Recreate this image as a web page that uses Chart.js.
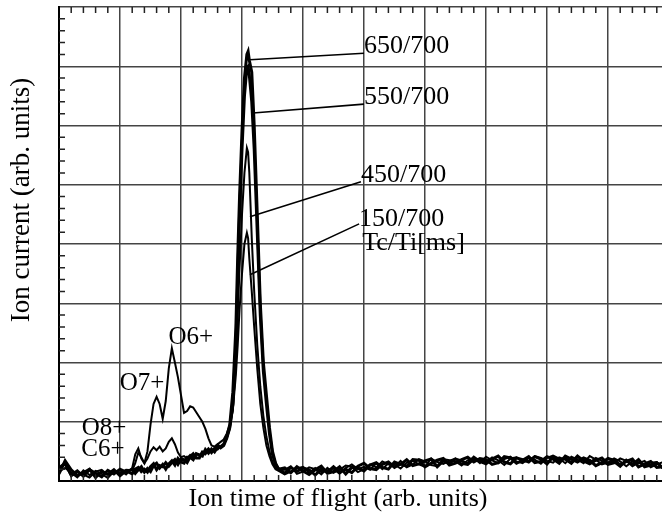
<!DOCTYPE html>
<html>
<head>
<meta charset="utf-8">
<script src="https://cdn.jsdelivr.net/npm/chart.js@4/dist/chart.umd.min.js"></script>
<style>
    html, body { margin: 0; padding: 0; background: #fff; overflow: hidden; }
    #wrap { width: 690px; height: 512px; position: relative; }
</style>
</head>
<body>
<div id="wrap"><canvas id="tofChart"></canvas></div>
<script>
// Ion time of flight (arb. units)
const tof = [
    0, 0.1, 0.2, 0.3, 0.4, 0.5, 0.6, 0.7, 0.8, 0.9, 1.0, 1.1,
    1.2, 1.25, 1.3, 1.35, 1.4, 1.45, 1.5, 1.55, 1.6, 1.65,
    1.7, 1.75, 1.8, 1.85, 1.9, 1.95, 2.0, 2.05, 2.1, 2.15,
    2.2, 2.25, 2.3, 2.35, 2.4, 2.45, 2.5, 2.55, 2.6, 2.65,
    2.7, 2.75, 2.8, 2.85, 2.9, 2.93, 2.96, 3.0, 3.04, 3.08,
    3.1, 3.12, 3.16, 3.2, 3.25, 3.3, 3.35, 3.4, 3.45, 3.5,
    3.55, 3.6,
    3.7, 3.8, 3.9, 4.0, 4.1, 4.2, 4.3, 4.4,
    4.5, 4.6, 4.7, 4.8, 4.9, 5.0, 5.1, 5.2,
    5.3, 5.4, 5.5, 5.6, 5.7, 5.8, 5.9, 6.0,
    6.1, 6.2, 6.3, 6.4, 6.5, 6.6, 6.7, 6.8,
    6.9, 7.0, 7.1, 7.2, 7.3, 7.4, 7.5, 7.6,
    7.7, 7.8, 7.9, 8.0, 8.1, 8.2, 8.3, 8.4,
    8.5, 8.6, 8.7, 8.8, 8.9, 9.0, 9.1, 9.2,
    9.3, 9.4, 9.5, 9.6, 9.7, 9.8, 9.9, 10.0
];

// Ion current (arb. units), Tc/Ti = 650/700
const cur650 = [
    0.22, 0.30, 0.10, 0.17, 0.08, 0.19, 0.13, 0.07, 0.18, 0.12, 0.20, 0.15,
    0.20, 0.13, 0.19, 0.24, 0.15, 0.21, 0.16, 0.26, 0.30, 0.22,
    0.28, 0.20, 0.29, 0.34, 0.27, 0.38, 0.32, 0.30, 0.40, 0.40,
    0.36, 0.46, 0.44, 0.42, 0.53, 0.47, 0.54, 0.49, 0.57, 0.58,
    0.62, 0.75, 0.95, 1.5, 2.6, 3.8, 4.8, 5.9, 6.8, 7.2,
    7.25, 7.1, 6.9, 6.0, 4.5, 3.0, 2.0, 1.45, 0.9, 0.5,
    0.3, 0.2,
    0.22, 0.14, 0.24, 0.17, 0.11, 0.19, 0.25, 0.13,
    0.16, 0.24, 0.12, 0.23, 0.22, 0.17, 0.27, 0.31,
    0.23, 0.20, 0.32, 0.28, 0.36, 0.26, 0.29, 0.34,
    0.37, 0.24, 0.34, 0.30, 0.37, 0.34, 0.29, 0.40,
    0.33, 0.29, 0.37, 0.42, 0.32, 0.29, 0.39, 0.36,
    0.32, 0.41, 0.37, 0.29, 0.41, 0.35, 0.38, 0.31,
    0.42, 0.34, 0.29, 0.35, 0.39, 0.29, 0.33, 0.25,
    0.35, 0.28, 0.36, 0.24, 0.27, 0.31, 0.22, 0.26
];

// Tc/Ti = 550/700
const cur550 = [
    0.12, 0.34, 0.19, 0.09, 0.14, 0.20, 0.06, 0.16, 0.11, 0.19, 0.09, 0.17,
    0.12, 0.20, 0.23, 0.16, 0.20, 0.15, 0.24, 0.29, 0.19, 0.26,
    0.24, 0.31, 0.25, 0.31, 0.36, 0.28, 0.37, 0.36, 0.31, 0.41,
    0.46, 0.39, 0.39, 0.49, 0.48, 0.54, 0.48, 0.55, 0.61, 0.56,
    0.60, 0.72, 0.90, 1.3, 2.3, 3.4, 4.5, 5.6, 6.5, 6.98,
    7.0, 6.85, 6.4, 5.6, 4.2, 2.8, 1.85, 1.3, 0.8, 0.45,
    0.28, 0.20,
    0.13, 0.23, 0.16, 0.22, 0.19, 0.10, 0.20, 0.15,
    0.24, 0.15, 0.20, 0.14, 0.25, 0.30, 0.21, 0.19,
    0.28, 0.32, 0.23, 0.29, 0.25, 0.36, 0.35, 0.24,
    0.30, 0.35, 0.38, 0.27, 0.30, 0.36, 0.40, 0.32,
    0.38, 0.36, 0.28, 0.31, 0.41, 0.39, 0.30, 0.35,
    0.41, 0.31, 0.33, 0.41, 0.37, 0.30, 0.42, 0.37,
    0.32, 0.39, 0.35, 0.26, 0.31, 0.38, 0.35, 0.27,
    0.33, 0.37, 0.24, 0.29, 0.33, 0.23, 0.24, 0.28
];

// Tc/Ti = 450/700
const cur450 = [
    0.16, 0.22, 0.14, 0.06, 0.18, 0.10, 0.17, 0.12, 0.05, 0.16, 0.13, 0.19,
    0.18, 0.30, 0.48, 0.40, 0.30, 0.38, 0.50, 0.57, 0.52, 0.58,
    0.50, 0.55, 0.66, 0.72, 0.62, 0.48, 0.40, 0.42, 0.38, 0.44,
    0.40, 0.46, 0.43, 0.48, 0.45, 0.52, 0.49, 0.55, 0.53, 0.58,
    0.62, 0.72, 0.88, 1.2, 2.0, 2.8, 3.6, 4.5, 5.2, 5.62,
    5.55, 5.2, 4.1, 3.2, 2.3, 1.6, 1.1, 0.75, 0.5, 0.32,
    0.22, 0.18,
    0.19, 0.25, 0.12, 0.16, 0.23, 0.20, 0.11, 0.22,
    0.14, 0.19, 0.26, 0.24, 0.15, 0.20, 0.28, 0.23,
    0.33, 0.28, 0.24, 0.34, 0.23, 0.28, 0.37, 0.33,
    0.27, 0.25, 0.37, 0.35, 0.33, 0.26, 0.35, 0.39,
    0.30, 0.41, 0.35, 0.30, 0.37, 0.41, 0.33, 0.30,
    0.39, 0.36, 0.29, 0.39, 0.43, 0.38, 0.30, 0.41,
    0.36, 0.30, 0.42, 0.36, 0.28, 0.31, 0.38, 0.33,
    0.25, 0.33, 0.30, 0.34, 0.23, 0.28, 0.32, 0.22
];

// Tc/Ti = 150/700 (shows the O8+, O7+, O6+ peaks)
const cur150 = [
    0.20, 0.28, 0.08, 0.15, 0.11, 0.06, 0.16, 0.19, 0.10, 0.14, 0.18, 0.11,
    0.22, 0.45, 0.55, 0.38, 0.30, 0.50, 0.95, 1.30, 1.42, 1.30,
    1.05, 1.35, 1.90, 2.24, 2.00, 1.75, 1.45, 1.15, 1.18, 1.26,
    1.24, 1.16, 1.08, 1.00, 0.88, 0.72, 0.60, 0.58, 0.62, 0.66,
    0.70, 0.80, 0.95, 1.2, 1.8, 2.3, 2.9, 3.5, 4.0, 4.19,
    4.1, 3.75, 3.2, 2.6, 1.9, 1.3, 0.9, 0.6, 0.42, 0.28,
    0.20, 0.17,
    0.11, 0.16, 0.21, 0.24, 0.14, 0.22, 0.15, 0.18,
    0.21, 0.12, 0.22, 0.28, 0.20, 0.24, 0.19, 0.30,
    0.20, 0.30, 0.28, 0.21, 0.31, 0.34, 0.28, 0.24,
    0.38, 0.32, 0.29, 0.34, 0.38, 0.29, 0.27, 0.36,
    0.35, 0.32, 0.40, 0.35, 0.27, 0.38, 0.40, 0.32,
    0.34, 0.42, 0.39, 0.34, 0.31, 0.40, 0.36, 0.29,
    0.40, 0.36, 0.31, 0.39, 0.34, 0.27, 0.30, 0.38,
    0.34, 0.25, 0.31, 0.27, 0.31, 0.32, 0.21, 0.25
];

// Curve labels and their leader lines, in data units
const curveLabels = ['650/700', '550/700', '450/700', '150/700', 'Tc/Ti[ms]'];
const labelX = [5.0, 5.0, 4.95, 4.92, 4.97];
const labelY = [7.34, 6.48, 5.16, 4.42, 4.02];
const leaderFrom = [[3.13, 7.11], [3.18, 6.21], [3.13, 4.46], [3.13, 3.48]];
const leaderTo = [[5.0, 7.22], [5.0, 6.36], [4.95, 5.05], [4.92, 4.34]];

// Ion species labels (centre positions, data units)
const ionLabels = ['O6+', 'O7+', 'O8+', 'C6+'];
const ionX = [2.16, 1.36, 0.74, 0.72];
const ionY = [2.43, 1.64, 0.88, 0.54];

const serif = '"Liberation Serif", "DejaVu Serif", serif';

function toPoints(values) {
    return tof.map((x, i) => ({ x: x, y: values[i] }));
}

// Minor ticks, annotations and axis titles
const decorPlugin = {
    id: 'decor',
    afterDraw(chart) {
        const ctx = chart.ctx;
        const xs = chart.scales.x;
        const ys = chart.scales.y;
        const area = chart.chartArea;

        ctx.save();
        ctx.strokeStyle = '#222';
        ctx.lineWidth = 1.5;
        ctx.beginPath();
        for (let i = 1; i < 50; i++) {
            if (i % 5 === 0) continue;
            const px = xs.getPixelForValue(i / 5);
            ctx.moveTo(px, area.top);
            ctx.lineTo(px, area.top + 6);
            ctx.moveTo(px, area.bottom);
            ctx.lineTo(px, area.bottom - 6);
        }
        for (let i = 1; i < 40; i++) {
            if (i % 5 === 0) continue;
            const py = ys.getPixelForValue(i / 5);
            ctx.moveTo(area.left, py);
            ctx.lineTo(area.left + 6, py);
        }
        ctx.stroke();

        // leader lines
        ctx.strokeStyle = '#000';
        ctx.lineWidth = 1.6;
        ctx.beginPath();
        leaderFrom.forEach((p, i) => {
            ctx.moveTo(xs.getPixelForValue(p[0]), ys.getPixelForValue(p[1]));
            ctx.lineTo(xs.getPixelForValue(leaderTo[i][0]), ys.getPixelForValue(leaderTo[i][1]));
        });
        ctx.stroke();

        ctx.fillStyle = '#000';
        ctx.textBaseline = 'middle';
        ctx.font = '26px ' + serif;
        ctx.textAlign = 'left';
        curveLabels.forEach((t, i) => {
            ctx.fillText(t, xs.getPixelForValue(labelX[i]), ys.getPixelForValue(labelY[i]));
        });

        ctx.font = '25px ' + serif;
        ctx.textAlign = 'center';
        ionLabels.forEach((t, i) => {
            ctx.fillText(t, xs.getPixelForValue(ionX[i]), ys.getPixelForValue(ionY[i]));
        });

        // axis titles
        ctx.font = '26px ' + serif;
        ctx.fillText('Ion time of flight (arb. units)', area.left + 279, area.bottom + 18);
        ctx.translate(area.left - 37, area.top + 193);
        ctx.rotate(-Math.PI / 2);
        ctx.font = '27px ' + serif;
        ctx.fillText('Ion current (arb. units)', 0, 0);
        ctx.restore();
    }
};

function makeDataset(label, values, width) {
    return {
        label: label,
        data: toPoints(values),
        borderColor: '#000',
        borderWidth: width,
        pointRadius: 0,
        tension: 0,
        fill: false
    };
}

new Chart(document.getElementById('tofChart'), {
    type: 'line',
    data: {
        datasets: [
            makeDataset('650/700', cur650, 3),
            makeDataset('550/700', cur550, 3),
            makeDataset('450/700', cur450, 2),
            makeDataset('150/700', cur150, 2)
        ]
    },
    options: {
        responsive: true,
        maintainAspectRatio: false,
        animation: false,
        layout: { padding: { left: 59, top: 7, right: 21, bottom: 31 } },
        plugins: {
            legend: { display: false },
            tooltip: { enabled: false }
        },
        scales: {
            x: {
                type: 'linear',
                min: 0,
                max: 10,
                ticks: { display: false, stepSize: 1 },
                grid: { color: '#444', lineWidth: 1.5, drawTicks: false },
                border: { color: '#000', width: 2 }
            },
            y: {
                min: 0,
                max: 8,
                ticks: { display: false, stepSize: 1 },
                grid: { color: '#444', lineWidth: 1.5, drawTicks: false },
                border: { color: '#000', width: 2 }
            }
        }
    },
    plugins: [decorPlugin]
});
</script>
</body>
</html>
